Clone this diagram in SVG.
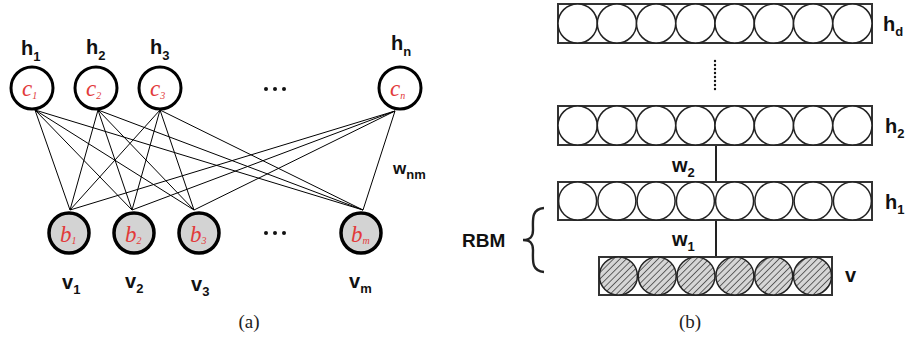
<svg xmlns="http://www.w3.org/2000/svg" width="909" height="343" viewBox="0 0 909 343">
<style>
.lbl{font-family:"Liberation Sans",Arial,sans-serif;font-weight:bold;font-size:20px;fill:#111}
.sub{font-size:13px}
.cap{font-family:"Liberation Serif","Times New Roman",serif;font-size:19px;fill:#222}
.red{font-family:"Liberation Serif","Times New Roman",serif;font-style:italic;font-size:23px;fill:#e23a3a}
.rsub{font-size:10px}
.top{fill:#fff;stroke:#000;stroke-width:3}
.bot{fill:#d3d3d3;stroke:#000;stroke-width:3.5}
.edge{stroke:#000;stroke-width:1;fill:none}
.row{fill:#fff;stroke:#333;stroke-width:2}
.unit{fill:#fff;stroke:#222;stroke-width:1.5}
.hunit{fill:url(#hatch);stroke:#222;stroke-width:1.5}
.dot{fill:#111}
</style>
<defs>
<pattern id="hatch" patternUnits="userSpaceOnUse" width="4.5" height="4.5" patternTransform="rotate(45)">
<rect width="4.5" height="4.5" fill="#d6d6d6"/>
<line x1="0" y1="0" x2="0" y2="4.5" stroke="#444" stroke-width="1.6"/>
</pattern>
</defs>
<rect width="909" height="343" fill="#fff"/>

<g id="connectors">
<line class="edge" x1="35" y1="110" x2="70" y2="210"/>
<line class="edge" x1="35" y1="110" x2="132" y2="210"/>
<line class="edge" x1="35" y1="110" x2="194" y2="210"/>
<line class="edge" x1="35" y1="110" x2="363" y2="210"/>
<line class="edge" x1="98" y1="110" x2="70" y2="210"/>
<line class="edge" x1="98" y1="110" x2="132" y2="210"/>
<line class="edge" x1="98" y1="110" x2="194" y2="210"/>
<line class="edge" x1="98" y1="110" x2="363" y2="210"/>
<line class="edge" x1="160" y1="110" x2="70" y2="210"/>
<line class="edge" x1="160" y1="110" x2="132" y2="210"/>
<line class="edge" x1="160" y1="110" x2="194" y2="210"/>
<line class="edge" x1="160" y1="110" x2="363" y2="210"/>
<line class="edge" x1="395" y1="111" x2="70" y2="210"/>
<line class="edge" x1="395" y1="111" x2="132" y2="210"/>
<line class="edge" x1="395" y1="111" x2="194" y2="210"/>
<line class="edge" x1="395" y1="111" x2="363" y2="210"/>
<line stroke="#222" stroke-width="2" x1="716" y1="145" x2="716" y2="182"/>
<line stroke="#222" stroke-width="2" x1="716" y1="220" x2="716" y2="257"/>
</g>

<g id="h1">
<circle class="top" cx="32" cy="88" r="21"/>
<text class="red" x="22" y="96">c<tspan class="rsub" dy="3">1</tspan></text>
<text class="lbl" x="21" y="55">h<tspan class="sub" dy="6">1</tspan></text>
</g>
<g id="h2">
<circle class="top" cx="96" cy="88" r="21"/>
<text class="red" x="86" y="96">c<tspan class="rsub" dy="3">2</tspan></text>
<text class="lbl" x="86" y="54">h<tspan class="sub" dy="6">2</tspan></text>
</g>
<g id="h3">
<circle class="top" cx="160" cy="88" r="21"/>
<text class="red" x="150" y="96">c<tspan class="rsub" dy="3">3</tspan></text>
<text class="lbl" x="150" y="54">h<tspan class="sub" dy="6">3</tspan></text>
</g>
<g id="hn">
<circle class="top" cx="400" cy="88" r="21"/>
<text class="red" x="390" y="96">c<tspan class="rsub" dy="3">n</tspan></text>
<text class="lbl" x="391" y="50">h<tspan class="sub" dy="6">n</tspan></text>
</g>
<g id="dots-top">
<circle class="dot" cx="266" cy="89" r="2"/>
<circle class="dot" cx="275" cy="89" r="2"/>
<circle class="dot" cx="284" cy="89" r="2"/>
</g>

<g id="v1">
<circle class="bot" cx="69" cy="233" r="20"/>
<text class="red" x="60" y="242">b<tspan class="rsub" dy="2">1</tspan></text>
<text class="lbl" x="62" y="289">v<tspan class="sub" dy="5">1</tspan></text>
</g>
<g id="v2">
<circle class="bot" cx="134" cy="233" r="20"/>
<text class="red" x="125" y="242">b<tspan class="rsub" dy="2">2</tspan></text>
<text class="lbl" x="125" y="288">v<tspan class="sub" dy="5">2</tspan></text>
</g>
<g id="v3">
<circle class="bot" cx="199" cy="233" r="20"/>
<text class="red" x="190" y="242">b<tspan class="rsub" dy="2">3</tspan></text>
<text class="lbl" x="191" y="291">v<tspan class="sub" dy="5">3</tspan></text>
</g>
<g id="vm">
<circle class="bot" cx="361" cy="233" r="20"/>
<text class="red" x="351" y="242">b<tspan class="rsub" dy="2">m</tspan></text>
<text class="lbl" x="349" y="288">v<tspan class="sub" dy="5">m</tspan></text>
</g>
<g id="dots-bot">
<circle class="dot" cx="266" cy="233" r="2"/>
<circle class="dot" cx="275" cy="233" r="2"/>
<circle class="dot" cx="284" cy="233" r="2"/>
</g>
<text class="lbl" x="393" y="174" style="font-size:17px">w<tspan class="sub" dy="5">nm</tspan></text>

<text class="cap" x="249" y="328" text-anchor="middle">(a)</text>
<text class="cap" x="690" y="328" text-anchor="middle">(b)</text>

<g id="layer-hd">
<rect class="row" x="558" y="4" width="314" height="39"/>
<circle class="unit" cx="577.6" cy="23.5" r="19.6"/>
<circle class="unit" cx="616.9" cy="23.5" r="19.6"/>
<circle class="unit" cx="656.1" cy="23.5" r="19.6"/>
<circle class="unit" cx="695.4" cy="23.5" r="19.6"/>
<circle class="unit" cx="734.6" cy="23.5" r="19.6"/>
<circle class="unit" cx="773.9" cy="23.5" r="19.6"/>
<circle class="unit" cx="813.1" cy="23.5" r="19.6"/>
<circle class="unit" cx="852.4" cy="23.5" r="19.6"/>
<text class="lbl" x="883" y="31">h<tspan class="sub" dy="5">d</tspan></text>
</g>
<g id="vdots">
<circle class="dot" cx="715" cy="61" r="1.2"/>
<circle class="dot" cx="715" cy="65" r="1.2"/>
<circle class="dot" cx="715" cy="69" r="1.2"/>
<circle class="dot" cx="715" cy="73" r="1.2"/>
<circle class="dot" cx="715" cy="77" r="1.2"/>
<circle class="dot" cx="715" cy="81" r="1.2"/>
<circle class="dot" cx="715" cy="85" r="1.2"/>
<circle class="dot" cx="715" cy="89" r="1.2"/>
</g>
<g id="layer-h2">
<rect class="row" x="558" y="106" width="314" height="39"/>
<circle class="unit" cx="577.6" cy="125.5" r="19.6"/>
<circle class="unit" cx="616.9" cy="125.5" r="19.6"/>
<circle class="unit" cx="656.1" cy="125.5" r="19.6"/>
<circle class="unit" cx="695.4" cy="125.5" r="19.6"/>
<circle class="unit" cx="734.6" cy="125.5" r="19.6"/>
<circle class="unit" cx="773.9" cy="125.5" r="19.6"/>
<circle class="unit" cx="813.1" cy="125.5" r="19.6"/>
<circle class="unit" cx="852.4" cy="125.5" r="19.6"/>
<text class="lbl" x="885" y="133">h<tspan class="sub" dy="5">2</tspan></text>
</g>
<g id="layer-h1">
<rect class="row" x="558" y="182" width="314" height="38"/>
<circle class="unit" cx="577.6" cy="201" r="19"/>
<circle class="unit" cx="616.9" cy="201" r="19"/>
<circle class="unit" cx="656.1" cy="201" r="19"/>
<circle class="unit" cx="695.4" cy="201" r="19"/>
<circle class="unit" cx="734.6" cy="201" r="19"/>
<circle class="unit" cx="773.9" cy="201" r="19"/>
<circle class="unit" cx="813.1" cy="201" r="19"/>
<circle class="unit" cx="852.4" cy="201" r="19"/>
<text class="lbl" x="885" y="209">h<tspan class="sub" dy="5">1</tspan></text>
</g>
<g id="layer-v">
<rect class="row" x="599" y="257" width="233" height="38"/>
<circle class="hunit" cx="618.4" cy="276" r="19"/>
<circle class="hunit" cx="657.2" cy="276" r="19"/>
<circle class="hunit" cx="696" cy="276" r="19"/>
<circle class="hunit" cx="734.9" cy="276" r="19"/>
<circle class="hunit" cx="773.7" cy="276" r="19"/>
<circle class="hunit" cx="812.5" cy="276" r="19"/>
<text class="lbl" x="845" y="282">v</text>
</g>
<text class="lbl" x="672" y="172">w<tspan class="sub" dy="5">2</tspan></text>
<text class="lbl" x="672" y="246">w<tspan class="sub" dy="5">1</tspan></text>
<g id="rbm">
<text class="lbl" x="462" y="247" style="font-size:19px">RBM</text>
<path d="M544,208 C531,209 533,220 533,230 C533,236 531,240 523,240 C531,240 533,244 533,250 C533,260 531,271 544,272" fill="none" stroke="#222" stroke-width="2.4"/>
</g>
</svg>
